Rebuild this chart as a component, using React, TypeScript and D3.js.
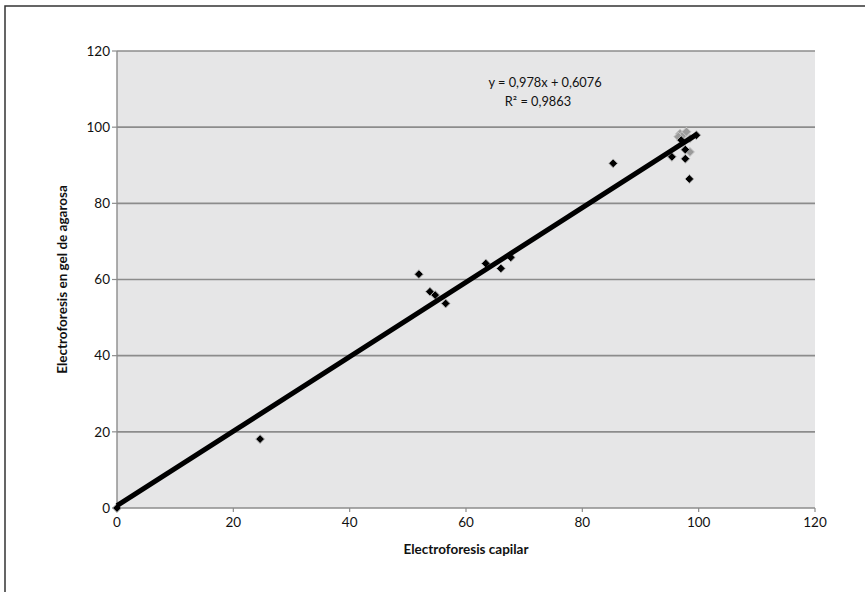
import React from "react";
import * as d3 from "d3";

const capilarBlack = [0, 24.6, 51.9, 53.8, 54.7, 56.5, 63.4, 66.0, 67.7, 85.3, 95.4, 97.7, 97.7, 98.4, 99.6, 97.0];
const agarosaBlack = [0, 18.1, 61.4, 56.8, 55.9, 53.7, 64.2, 62.9, 65.8, 90.5, 92.2, 91.7, 94.1, 86.4, 97.9, 96.6];
const capilarGrey = [96.8, 97.3, 97.9, 96.5, 98.5, 98.5];
const agarosaGrey = [98.3, 97.9, 98.8, 97.5, 97.0, 93.5];
const xTicks = [0, 20, 40, 60, 80, 100, 120];
const yTicks = [0, 20, 40, 60, 80, 100, 120];
const slope = 0.978;
const intercept = 0.6076;
const equationText = "y = 0,978x + 0,6076";
const r2Text = "R² = 0,9863";
const xTitle = "Electroforesis capilar";
const yTitle = "Electroforesis en gel de agarosa";

const W = 865;
const H = 592;
const left = 117;
const right = 815;
const top = 51;
const bottom = 508;
const font = "Lato, 'Open Sans', sans-serif";

function diamond(cx: number, cy: number, r: number) {
  return `M${cx},${cy - r}L${cx + r},${cy}L${cx},${cy + r}L${cx - r},${cy}Z`;
}

export default function App() {
  const x = d3.scaleLinear().domain([0, 120]).range([left, right]);
  const y = d3.scaleLinear().domain([0, 120]).range([bottom, top]);
  const allX = capilarBlack.concat(capilarGrey);
  const xMin = d3.min(allX) as number;
  const xMax = d3.max(allX) as number;
  const line = d3.line<number>().x((d) => x(d)).y((d) => y(slope * d + intercept));

  return (
    <svg width={W} height={H} style={{ position: "absolute", left: 0, top: 0, background: "#fff" }}>
      <rect x={5} y={6} width={W + 20} height={H + 20} fill="#fff" stroke="#333" strokeWidth={1.5} />
      <rect x={left} y={top} width={right - left} height={bottom - top} fill="#e6e6e7" />
      {yTicks.map((t) => (
        <g key={"y" + t}>
          {t > 0 && (
            <line x1={left} x2={right} y1={y(t)} y2={y(t)} stroke="#8c8c8c" strokeWidth={1.6} />
          )}
          <line x1={left - 5} x2={left} y1={y(t)} y2={y(t)} stroke="#8c8c8c" strokeWidth={1.2} />
          <text x={left - 7} y={y(t)} dy="0.35em" textAnchor="end" fontFamily={font} fontSize={13.5} fill="#111">
            {t}
          </text>
        </g>
      ))}
      <line x1={left} x2={left} y1={top} y2={bottom} stroke="#8c8c8c" strokeWidth={1.4} />
      <line x1={left} x2={right} y1={bottom} y2={bottom} stroke="#8c8c8c" strokeWidth={1.4} />
      {xTicks.map((t) => (
        <g key={"x" + t}>
          <line x1={x(t)} x2={x(t)} y1={bottom} y2={bottom + 4} stroke="#8c8c8c" strokeWidth={1.2} />
          <text x={x(t)} y={bottom + 14} dy="0.35em" textAnchor="middle" fontFamily={font} fontSize={13.5} fill="#111">
            {t}
          </text>
        </g>
      ))}
      {capilarGrey.map((v, i) => (
        <path key={"g" + i} d={diamond(x(v), y(agarosaGrey[i]), 4.5)} fill="#9a9a9a" stroke="#c8c8c8" strokeWidth={1} />
      ))}
      {capilarBlack.map((v, i) => (
        <path key={"b" + i} d={diamond(x(v), y(agarosaBlack[i]), 4.4)} fill="#000" stroke="#b5b5b5" strokeWidth={1} />
      ))}
      <path d={line([xMin, xMax]) || ""} stroke="#000" strokeWidth={5} fill="none" />
      <text x={545} y={83} dy="0.35em" textAnchor="middle" fontFamily={font} fontSize={12.8} fill="#111">
        {equationText}
      </text>
      <text x={538} y={102} dy="0.35em" textAnchor="middle" fontFamily={font} fontSize={12.8} fill="#111">
        {r2Text}
      </text>
      <text x={(left + right) / 2} y={549} dy="0.35em" textAnchor="middle" fontFamily={font} fontWeight="bold" fontSize={13.5} fill="#111">
        {xTitle}
      </text>
      <text
        transform={`translate(62,${(top + bottom) / 2}) rotate(-90)`}
        dy="0.35em"
        textAnchor="middle"
        fontFamily={font}
        fontWeight="bold"
        fontSize={13.5}
        fill="#111"
      >
        {yTitle}
      </text>
    </svg>
  );
}
